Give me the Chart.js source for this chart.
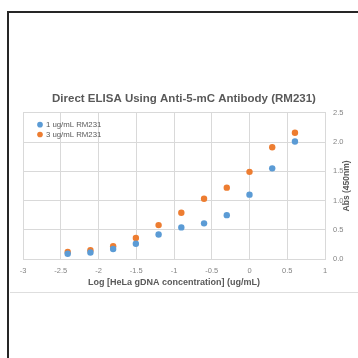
<!DOCTYPE html>
<html>
<head>
<meta charset="utf-8">
<script src="https://cdn.jsdelivr.net/npm/chart.js@4.4.0/dist/chart.umd.min.js"></script>
<style>
  body { margin: 0; background: #fff; overflow: hidden; }
  #page { position: relative; width: 358px; height: 358px; }
  #frame { position: absolute; left: 7px; top: 11px; width: 351px; height: 347px;
           border-top: 2px solid #262626; border-left: 2px solid #262626; }
  #sep { position: absolute; left: 10px; right: 0; top: 292px; height: 1px; background: #dedede; }
  #chart { position: absolute; left: 0; top: 0; }
</style>
</head>
<body>
<div id="page">
  <div id="frame"></div>
  <div id="sep"></div>
  <canvas id="chart" width="358" height="358"></canvas>
</div>
<script>
// Log of the HeLa gDNA dilutions (ug/mL)
let logConc = [-2.408, -2.107, -1.806, -1.505, -1.204, -0.903, -0.602, -0.301, 0, 0.301, 0.602]

// Abs (450nm)
let abs1ug = [0.09, 0.11, 0.17, 0.26, 0.42, 0.54, 0.61, 0.75, 1.10, 1.55, 2.01]
let abs3ug = [0.12, 0.15, 0.22, 0.36, 0.58, 0.79, 1.03, 1.22, 1.49, 1.91, 2.16]

let seriesNames = ["1 ug/mL RM231", "3 ug/mL RM231"]
let seriesColors = ["#5B9BD5", "#ED7D31"]

let xTicks = [-3, -2.5, -2, -1.5, -1, -0.5, 0, 0.5, 1]
let yTicks = [0, 0.5, 1, 1.5, 2, 2.5]

let font = "'Liberation Sans', Arial, sans-serif"
let gridColor = "#d9d9d9"
let textColor = "#595959"
let tickColor = "#848484"

// Turn the arrays into {x, y} points
let toPoints = function(values) {
  return logConc.map((x, i) => ({ x: x, y: values[i] }))
}

let yTitlePlugin = {
  id: "yTitle",
  afterLayout(chart) {
    // A vertical legend in the chart area loses its top, so put it back
    let legend = chart.legend
    let area = chart.chartArea
    legend.left = area.left + 13
    legend.right = legend.left + legend.width
    legend.top = area.top + 6
    legend.bottom = legend.top + legend.height
  },
  afterDraw(chart) {
    // Excel puts the secondary axis title bottom-to-top, Chart.js does not
    let ctx = chart.ctx
    let area = chart.chartArea
    ctx.save()
    ctx.translate(347, (area.top + area.bottom) / 2)
    ctx.rotate(-Math.PI / 2)
    ctx.font = "bold 8.5px " + font
    ctx.fillStyle = textColor
    ctx.textAlign = "center"
    ctx.textBaseline = "middle"
    ctx.fillText("Abs (450nm)", 0, 0)
    ctx.restore()
  }
}

let config = {
  type: "scatter",
  data: {
    datasets: [
      {
        label: seriesNames[0],
        data: toPoints(abs1ug),
        backgroundColor: seriesColors[0],
        borderColor: seriesColors[0],
        pointRadius: 3.2,
        pointBorderWidth: 0
      },
      {
        label: seriesNames[1],
        data: toPoints(abs3ug),
        backgroundColor: seriesColors[1],
        borderColor: seriesColors[1],
        pointRadius: 3.2,
        pointBorderWidth: 0
      }
    ]
  },
  options: {
    responsive: false,
    animation: false,
    layout: {
      padding: { top: 84, left: 23, right: 13, bottom: 70 }
    },
    plugins: {
      title: {
        display: true,
        text: "Direct ELISA Using Anti-5-mC Antibody (RM231)",
        color: textColor,
        font: { family: font, size: 11.5, weight: "bold", lineHeight: 1.2 },
        padding: { top: 8, bottom: 7 }
      },
      legend: {
        position: "chartArea",
        align: "start",
        labels: {
          usePointStyle: true,
          pointStyle: "circle",
          boxHeight: 4,
          boxWidth: 4,
          padding: 2,
          color: textColor,
          font: { family: font, size: 7.8, lineHeight: 1.2 }
        }
      },
      tooltip: { enabled: false }
    },
    scales: {
      x: {
        type: "linear",
        min: -3,
        max: 1,
        afterBuildTicks(axis) {
          axis.ticks = xTicks.map(v => ({ value: v }))
        },
        afterFit(axis) {
          axis.height = 29
        },
        grid: { color: gridColor, drawTicks: false },
        border: { color: gridColor },
        ticks: {
          color: tickColor,
          padding: 7,
          maxRotation: 0,
          font: { family: font, size: 7.5 },
          callback: v => String(v)
        },
        title: {
          display: true,
          text: "Log [HeLa gDNA concentration] (ug/mL)",
          color: textColor,
          padding: 0,
          font: { family: font, size: 9, weight: "bold", lineHeight: 1.2 }
        }
      },
      y: {
        type: "linear",
        position: "right",
        min: 0,
        max: 2.5,
        afterBuildTicks(axis) {
          axis.ticks = yTicks.map(v => ({ value: v }))
        },
        afterFit(axis) {
          axis.width = 20
        },
        grid: { color: gridColor, drawTicks: false },
        border: { color: gridColor },
        ticks: {
          color: tickColor,
          padding: 8,
          font: { family: font, size: 7.5 },
          callback: v => v.toFixed(1)
        }
      }
    }
  },
  plugins: [yTitlePlugin]
}

let chart = new Chart("chart", config)
</script>
</body>
</html>
